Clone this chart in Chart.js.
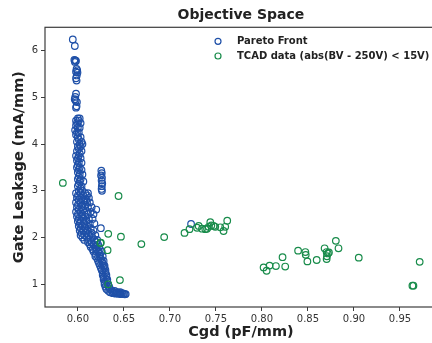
<!DOCTYPE html>
<html>
<head>
<meta charset="utf-8">
<script src="https://cdn.jsdelivr.net/npm/chart.js@4.4.1/dist/chart.umd.min.js"></script>
<style>
  html, body { margin: 0; padding: 0; background: #fff; overflow: hidden; }
  #wrap { width: 432px; height: 343px; overflow: hidden; }
</style>
</head>
<body>
<div id="wrap"><canvas id="chart" width="442" height="343"></canvas></div>
<script>
// Pareto front (Cgd in pF/mm, leakage in mA/mm)
const paretoCgd = [
  0.5945, 0.5967, 0.5962, 0.5972, 0.5980, 0.5968, 0.5986, 0.5993, 0.5980, 0.5996,
  0.5988, 0.5980, 0.5986, 0.5980, 0.5972, 0.5966, 0.5976, 0.5990, 0.5986, 0.5980,
  // dense column
  0.600, 0.602, 0.598, 0.601, 0.599, 0.603, 0.598, 0.600, 0.602, 0.597,
  0.599, 0.601, 0.598, 0.600, 0.603, 0.601, 0.599, 0.604, 0.602, 0.605,
  0.600, 0.603, 0.601, 0.599, 0.604, 0.602, 0.598, 0.601, 0.600, 0.603,
  0.599, 0.601, 0.604, 0.600, 0.599, 0.602, 0.601, 0.604, 0.600, 0.602,
  0.605, 0.601, 0.600, 0.603, 0.602, 0.606, 0.601, 0.600, 0.604, 0.603,
  0.601, 0.605,
  // second column
  0.6255, 0.6260, 0.6252, 0.6262, 0.6258, 0.6265, 0.6260, 0.6258, 0.6262,
  // wide band
  0.598, 0.603, 0.608, 0.611, 0.600, 0.606, 0.610, 0.599, 0.604, 0.612,
  0.601, 0.607, 0.609, 0.598, 0.603, 0.610, 0.613, 0.600, 0.605, 0.608,
  0.599, 0.604, 0.611, 0.615, 0.601, 0.606, 0.620, 0.598, 0.603, 0.609,
  0.614, 0.600, 0.605, 0.611, 0.617, 0.599, 0.604, 0.608, 0.601, 0.606,
  0.612, 0.616, 0.600, 0.603, 0.609, 0.602, 0.607, 0.613, 0.618, 0.601,
  0.605, 0.610, 0.603, 0.608, 0.614, 0.625, 0.602, 0.606, 0.611, 0.617,
  0.604, 0.609, 0.615, 0.603, 0.607, 0.612, 0.619, 0.605, 0.610, 0.616,
  0.607, 0.612, 0.618, 0.621,
  // lower curve
  0.611, 0.615, 0.620, 0.613, 0.617, 0.622, 0.614, 0.619, 0.623, 0.616,
  0.620, 0.624, 0.617, 0.622, 0.626, 0.619, 0.624, 0.619, 0.624, 0.627,
  0.621, 0.625, 0.622, 0.626, 0.628, 0.623, 0.627, 0.624, 0.628, 0.629,
  0.625, 0.629, 0.626, 0.630, 0.627, 0.630, 0.627, 0.631, 0.628, 0.631,
  0.628, 0.632, 0.629, 0.632, 0.629, 0.633, 0.630, 0.634, 0.631, 0.635,
  0.633, 0.637, 0.640, 0.635, 0.639, 0.643, 0.646, 0.638, 0.642, 0.645,
  0.648, 0.641, 0.644, 0.647, 0.650, 0.646, 0.649, 0.652, 0.651,
  // stray point among TCAD data
  0.723
];
const paretoLeak = [
  6.24, 6.10, 5.80, 5.79, 5.78, 5.76, 5.61, 5.58, 5.55, 5.53,
  5.47, 5.41, 5.36, 5.08, 5.01, 4.96, 4.93, 4.90, 4.81, 4.78,
  4.55, 4.55, 4.50, 4.50, 4.45, 4.45, 4.40, 4.35, 4.35, 4.30,
  4.25, 4.25, 4.20, 4.15, 4.15, 4.10, 4.05, 4.05, 4.00, 4.00,
  3.95, 3.95, 3.90, 3.85, 3.85, 3.80, 3.75, 3.75, 3.70, 3.70,
  3.65, 3.60, 3.60, 3.55, 3.50, 3.50, 3.45, 3.45, 3.40, 3.35,
  3.35, 3.30, 3.25, 3.25, 3.20, 3.20, 3.15, 3.10, 3.10, 3.05,
  3.00, 3.00,
  3.43, 3.38, 3.33, 3.28, 3.22, 3.16, 3.10, 3.04, 3.00,
  2.95, 2.95, 2.95, 2.95, 2.90, 2.90, 2.90, 2.85, 2.85, 2.85,
  2.80, 2.80, 2.80, 2.75, 2.75, 2.75, 2.75, 2.70, 2.70, 2.70,
  2.65, 2.65, 2.65, 2.65, 2.60, 2.60, 2.60, 2.55, 2.55, 2.55,
  2.55, 2.50, 2.50, 2.50, 2.50, 2.45, 2.45, 2.45, 2.40, 2.40,
  2.40, 2.40, 2.35, 2.35, 2.35, 2.30, 2.30, 2.30, 2.30, 2.25,
  2.25, 2.25, 2.20, 2.20, 2.20, 2.20, 2.15, 2.15, 2.15, 2.15,
  2.10, 2.10, 2.10, 2.05, 2.05, 2.05, 2.05, 2.00, 2.00, 2.00,
  1.95, 1.95, 1.95, 1.95,
  1.90, 1.90, 1.90, 1.85, 1.85, 1.85, 1.80, 1.80, 1.80, 1.75,
  1.75, 1.75, 1.70, 1.70, 1.70, 1.65, 1.65, 1.60, 1.60, 1.60,
  1.55, 1.55, 1.50, 1.50, 1.50, 1.45, 1.45, 1.40, 1.40, 1.40,
  1.35, 1.35, 1.30, 1.30, 1.25, 1.25, 1.20, 1.20, 1.15, 1.15,
  1.10, 1.10, 1.05, 1.05, 1.00, 1.00, 0.95, 0.95, 0.90, 0.90,
  0.86, 0.86, 0.86, 0.83, 0.83, 0.83, 0.83, 0.81, 0.81, 0.81,
  0.81, 0.80, 0.80, 0.80, 0.80, 0.79, 0.79, 0.79, 0.785,
  2.29
];

// TCAD data with |BV - 250V| < 15V
const tcadCgd = [
  0.5837, 0.6442, 0.6330, 0.6468, 0.6690, 0.6938, 0.7159, 0.6244, 0.6250, 0.6323,
  0.6457, 0.6330, 0.7213, 0.7295, 0.7313, 0.7349, 0.7385, 0.7403, 0.7421, 0.7439,
  0.7450, 0.7475, 0.7493, 0.7548, 0.7583, 0.7601, 0.7623, 0.8018, 0.8051, 0.8083,
  0.8152, 0.8224, 0.8253, 0.8393, 0.8472, 0.8476, 0.8494, 0.8595, 0.8681, 0.8703,
  0.8717, 0.8706, 0.8703, 0.8728, 0.8803, 0.8832, 0.9052, 0.9714, 0.9635, 0.9646
];
const tcadLeak = [
  3.17, 2.89, 2.08, 2.02, 1.86, 2.01, 2.10, 1.885, 1.89, 1.73,
  1.09, 1.00, 2.18, 2.21, 2.25, 2.19, 2.18, 2.19, 2.23, 2.33,
  2.26, 2.25, 2.23, 2.22, 2.14, 2.23, 2.36, 1.36, 1.29, 1.40,
  1.39, 1.58, 1.38, 1.72, 1.69, 1.63, 1.49, 1.52, 1.77, 1.69,
  1.66, 1.60, 1.54, 1.68, 1.93, 1.77, 1.57, 1.48, 0.97, 0.97
];

const xTicks = [0.60, 0.65, 0.70, 0.75, 0.80, 0.85, 0.90, 0.95];
const yTicks = [1, 2, 3, 4, 5, 6];

const BLUE = '#1f50a8';
const GREEN = '#198c4b';
const FONT = "'DejaVu Sans', sans-serif";

const toPts = (xs, ys) => xs.map((x, i) => ({ x: x, y: ys[i] }));

// matplotlib-like frame + legend inside the axes
const framePlugin = {
  id: 'frame',
  afterDraw(chart) {
    const { ctx, chartArea: a } = chart;
    ctx.save();
    ctx.strokeStyle = '#3c3c3c';
    ctx.lineWidth = 1.2;
    ctx.strokeRect(a.left, a.top, a.right - a.left, a.bottom - a.top);

    const items = [
      { label: 'Pareto Front', color: BLUE },
      { label: 'TCAD data (abs(BV - 250V) < 15V)', color: GREEN }
    ];
    ctx.font = "bold 10px " + FONT;
    ctx.textBaseline = 'middle';
    ctx.fillStyle = '#222';
    items.forEach((it, i) => {
      const y = a.top + 14 + i * 14.7;
      ctx.beginPath();
      ctx.arc(a.left + 173, y, 3, 0, Math.PI * 2);
      ctx.strokeStyle = it.color;
      ctx.lineWidth = 1.2;
      ctx.stroke();
      ctx.fillText(it.label, a.left + 192, y);
    });
    ctx.restore();
  }
};

new Chart(document.getElementById('chart'), {
  type: 'scatter',
  data: {
    datasets: [
      {
        label: 'Pareto Front',
        data: toPts(paretoCgd, paretoLeak),
        borderColor: BLUE,
        backgroundColor: 'rgba(0,0,0,0)',
        borderWidth: 1.2,
        pointRadius: 3.3,
        order: 2
      },
      {
        label: 'TCAD data (abs(BV - 250V) < 15V)',
        data: toPts(tcadCgd, tcadLeak),
        borderColor: GREEN,
        backgroundColor: 'rgba(0,0,0,0)',
        borderWidth: 1.2,
        pointRadius: 3.3,
        order: 1
      }
    ]
  },
  options: {
    responsive: false,
    animation: false,
    layout: { padding: { left: 0, right: 2, top: 0, bottom: 0 } },
    plugins: {
      legend: { display: false },
      tooltip: { enabled: false },
      title: {
        display: true,
        text: 'Objective Space',
        fullSize: false,
        color: '#222',
        font: { family: FONT, size: 14, weight: 'bold' },
        padding: { top: 7, bottom: 3.5 }
      }
    },
    scales: {
      x: {
        type: 'linear',
        min: 0.5643,
        max: 0.990,
        afterFit: s => { s.height = 36; },
        afterBuildTicks: s => { s.ticks = xTicks.map(v => ({ value: v })); },
        grid: { drawOnChartArea: false, tickLength: 4, tickColor: '#3c3c3c' },
        border: { display: false },
        ticks: {
          color: '#333',
          padding: 2,
          maxRotation: 0,
          font: { family: FONT, size: 10 },
          callback: v => v.toFixed(2)
        },
        title: {
          display: true,
          text: 'Cgd (pF/mm)',
          color: '#222',
          font: { family: FONT, size: 14.5, weight: 'bold' },
          padding: { top: 0, bottom: 2 }
        }
      },
      y: {
        type: 'linear',
        min: 0.514,
        max: 6.50,
        afterFit: s => { s.width = 45; },
        afterBuildTicks: s => { s.ticks = yTicks.map(v => ({ value: v })); },
        grid: { drawOnChartArea: false, tickLength: 4, tickColor: '#3c3c3c' },
        border: { display: false },
        ticks: {
          color: '#333',
          padding: 3,
          font: { family: FONT, size: 10 },
          callback: v => String(v)
        },
        title: {
          display: true,
          text: 'Gate Leakage (mA/mm)',
          color: '#222',
          font: { family: FONT, size: 14.5, weight: 'bold' },
          padding: { top: 11, bottom: 0 }
        }
      }
    }
  },
  plugins: [framePlugin]
});
</script>
</body>
</html>
